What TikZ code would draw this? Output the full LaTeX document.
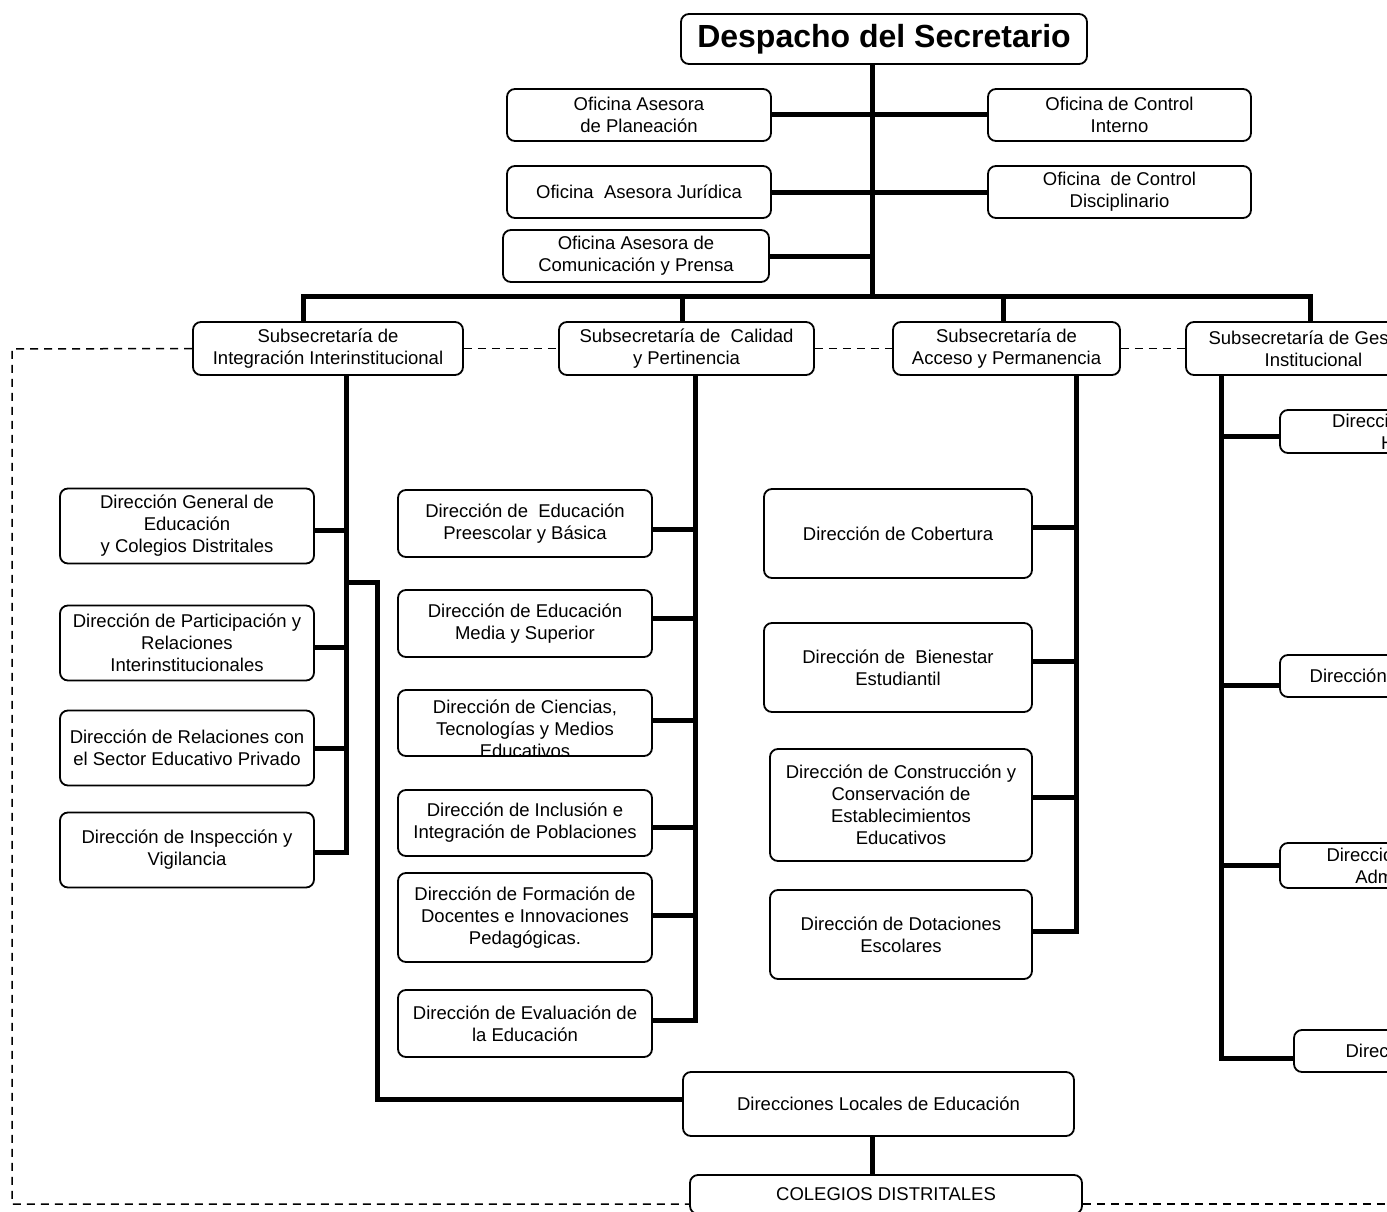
\documentclass[tikz,border=0pt]{standalone}
\usepackage{fontspec}
\setmainfont{Liberation Sans}
\begin{document}
\begin{tikzpicture}[x=1pt,y=-1pt,
  box/.style={draw, rounded corners=8pt, line width=1.8pt, align=center, inner sep=0pt,
    font=\fontsize{18.5}{22}\selectfont, fill=white},
  bx/.style 2 args={minimum width=#1pt, minimum height=#2pt},
  conn/.style={line width=5pt, line join=miter},
  dashln/.style={line width=1.5pt, dash pattern=on 8pt off 6pt}]
\useasboundingbox (0,0) rectangle (1387,1212);
\clip (0,0) rectangle (1387,1212);

% top
\node[box, bx={406}{50}, font=\fontsize{32}{36}\selectfont\bfseries] (T) at (884,39) {Despacho del Secretario};
\node[box, bx={264}{52}] (OP) at (639,115) {Oficina Asesora\\de Planeación};
\node[box, bx={263}{52}] (OCI) at (1119.5,115) {Oficina de Control\\Interno};
\node[box, bx={264}{52}] (OJ) at (639,192) {Oficina\ \ Asesora Jurídica};
\node[box, bx={263}{52}] (OCD) at (1119.5,192) {Oficina\ \ de Control\\Disciplinario};
\node[box, bx={266}{52}] (OCP) at (636,256) {Oficina Asesora de\\Comunicación y Prensa};

% subsecretarias
\node[box, bx={270}{53}] (S1) at (328,348.5) {Subsecretaría de\\Integración Interinstitucional};
\node[box, bx={255}{53}] (S2) at (686.5,348.5) {Subsecretaría de\ \ Calidad\\y Pertinencia};
\node[box, bx={227}{53}] (S3) at (1006.5,348.5) {Subsecretaría de\\Acceso y Permanencia};
\node[box, bx={255}{53}] (S4) at (1313.5,348.5) {Subsecretaría de Gestión\\Institucional};

% left column
\node[box, bx={254}{75}] (L1) at (187,526) {Dirección General de\\Educación\\y Colegios Distritales};
\node[box, bx={254}{75}] (L2) at (187,643) {Dirección de Participación y\\Relaciones\\Interinstitucionales};
\node[box, bx={254}{75}] (L3) at (187,748) {Dirección de Relaciones con\\el Sector Educativo Privado};
\node[box, bx={254}{75}] (L4) at (187,850) {Dirección de Inspección y\\Vigilancia};

% middle column
\node[box, bx={254}{67}] (M1) at (525,523.5) {Dirección de\ \ Educación\\Preescolar y Básica};
\node[box, bx={254}{67}] (M2) at (525,623.5) {Dirección de Educación\\Media y Superior};
\node[box, bx={254}{66}, path picture={\node[draw=none, fill=none, align=center, font=\fontsize{18.5}{22}\selectfont] at ([yshift=-6pt]path picture bounding box.center) {Dirección de Ciencias,\\Tecnologías y Medios\\Educativos};}] (M3) at (525,723) {};
\node[box, bx={254}{66}] (M4) at (525,823) {Dirección de Inclusión e\\Integración de Poblaciones};
\node[box, bx={254}{89}] (M5) at (525,917.5) {Dirección de Formación de\\Docentes e Innovaciones\\Pedagógicas.};
\node[box, bx={254}{67}] (M6) at (525,1023.5) {Dirección de Evaluación de\\la Educación};

% right-middle column
\node[box, bx={268}{89}] (R1) at (898,533.5) {Dirección de Cobertura};
\node[box, bx={268}{89}] (R2) at (898,667.5) {Dirección de\ \ Bienestar\\Estudiantil};
\node[box, bx={262}{112}] (R3) at (901,805) {Dirección de Construcción y\\Conservación de\\Establecimientos\\Educativos};
\node[box, bx={262}{89}] (R4) at (901,934.5) {Dirección de Dotaciones\\Escolares};

% far right column (clipped by the frame)
\node[box, bx={272}{43}] (F1) at (1416,431.5) {Dirección de Talento\\Humano};
\node[box, bx={228}{42}] (F2) at (1394,676) {Dirección Financiera};
\node[box, bx={276}{45}] (F3) at (1418,865.5) {Dirección de Servicios\\Administrativos};
\node[box, bx={316}{42}] (F4) at (1452,1051) {Dirección de Contratación};

% bottom
\node[box, bx={391}{64}] (DL) at (878.5,1104) {Direcciones Locales de Educación};
\node[box, bx={392}{39}] (CD) at (886,1194.5) {COLEGIOS DISTRITALES};

% coordinates
\coordinate (sp) at (872,64);
\coordinate (bus) at (872,296);
\coordinate (b1) at (303,296);
\coordinate (b2) at (682,296);
\coordinate (b3) at (1003,296);
\coordinate (b4) at (1310,296);
\coordinate (v1) at (346,375);
\coordinate (v1b) at (377,582);
\coordinate (v2) at (695,375);
\coordinate (v3) at (1076,375);
\coordinate (v4) at (1221,375);

% connector attachment points
\coordinate (cL1) at ([yshift=-4pt]L1.east);
\coordinate (cL2) at ([yshift=-4pt]L2.east);
\coordinate (cL3) at (L3.east);
\coordinate (cL4) at ([yshift=-2pt]L4.east);
\coordinate (cDL) at ([yshift=5pt]DL.west);
\coordinate (cM1) at ([yshift=-6pt]M1.east);
\coordinate (cM2) at ([yshift=5pt]M2.east);
\coordinate (cM3) at ([yshift=3pt]M3.east);
\coordinate (cM4) at ([yshift=-4pt]M4.east);
\coordinate (cM5) at ([yshift=2pt]M5.east);
\coordinate (cM6) at ([yshift=3pt]M6.east);
\coordinate (cR1) at ([yshift=6pt]R1.east);
\coordinate (cR2) at ([yshift=6pt]R2.east);
\coordinate (cR3) at ([yshift=8pt]R3.east);
\coordinate (cR4) at ([yshift=3pt]R4.east);
\coordinate (cF1) at ([yshift=-5pt]F1.west);
\coordinate (cF2) at ([yshift=-9pt]F2.west);
\coordinate (cF3) at (F3.west);
\coordinate (cF4) at ([yshift=-7pt]F4.west);

% main spine
\draw[conn] (sp) -- (bus);
\draw[conn] (OP.east) -- (OCI.west);
\draw[conn] (OJ.east) -- (OCD.west);
\draw[conn] (OCP.east) -- (OCP.east -| sp);
\draw[conn] (b1 |- S1.north) -- (b1) -- (b4) -- (b4 |- S4.north);
\draw[conn] (b2) -- (b2 |- S2.north);
\draw[conn] (b3) -- (b3 |- S3.north);

% S1 branch
\draw[conn] (v1) -- (v1 |- cL4) -- (cL4);
\foreach \c in {cL1,cL2,cL3} \draw[conn] (\c) -- (\c -| v1);
\draw[conn] (v1 |- v1b) -- (v1b) -- (v1b |- cDL) -- (cDL);

% S2 branch
\draw[conn] (v2) -- (v2 |- cM6) -- (cM6);
\foreach \c in {cM1,cM2,cM3,cM4,cM5} \draw[conn] (\c) -- (\c -| v2);

% S3 branch
\draw[conn] (v3) -- (v3 |- cR4) -- (cR4);
\foreach \c in {cR1,cR2,cR3} \draw[conn] (\c) -- (\c -| v3);

% S4 branch
\draw[conn] (v4) -- (v4 |- cF4) -- (cF4);
\foreach \c in {cF1,cF2,cF3} \draw[conn] (\c) -- (\c -| v4);

% bottom
\draw[conn] (DL.south -| sp) -- (CD.north -| sp);

% dashed frame
\coordinate (d1) at (12,349);
\coordinate (d2) at (12,1204);
\coordinate (d3) at (1400,1204);
\draw[dashln] (S1.west) -- (d1) -- (d2) -- (d2 -| CD.west);
\draw[dashln] (CD.east |- d3) -- (d3);
\draw[dashln] (S1.east) -- (S2.west);
\draw[dashln] (S2.east) -- (S3.west);
\draw[dashln] (S3.east) -- (S4.west);
\end{tikzpicture}
\end{document}
